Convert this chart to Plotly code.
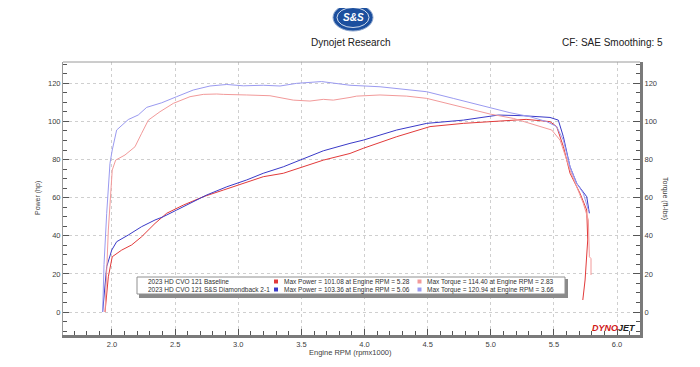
import plotly.graph_objects as go

# ---------------- data ----------------
base_power_rpm = [1.945, 1.971, 2.002, 2.077, 2.156, 2.235, 2.341, 2.433, 2.565, 2.723, 2.882, 3.04, 3.198,
                  3.357, 3.515, 3.674, 3.885, 3.99, 4.255, 4.519, 4.783, 5.047, 5.28, 5.469, 5.522, 5.575,
                  5.628, 5.707, 5.76, 5.768, 5.76, 5.747, 5.729]
base_power_hp = [0, 18.5, 29, 32.5, 35.2, 39.5, 46.5, 51.8, 56.1, 60.5, 64, 67.5, 71,
                 72.8, 76.2, 79.7, 83.2, 85.9, 92, 97.3, 99, 100.2, 101.08, 99.9, 97.3, 86.8,
                 72.8, 62.3, 53.5, 37.8, 27.3, 16.8, 6.3]

base_torque_rpm = [1.945, 1.971, 2.002, 2.029, 2.103, 2.182, 2.235, 2.288, 2.38, 2.486, 2.618, 2.723, 2.83,
                   2.882, 3.067, 3.251, 3.436, 3.568, 3.674, 3.753, 3.885, 3.938, 4.123, 4.334, 4.493,
                   4.651, 4.836, 4.994, 5.179, 5.364, 5.483, 5.549, 5.628, 5.733, 5.773, 5.781, 5.794, 5.794]
base_torque_ftlb = [0, 43, 74.5, 79.7, 82.4, 86.7, 93.8, 100.7, 105.1, 109.5, 113, 114.2, 114.4,
                    114.2, 113.9, 113.5, 111.2, 110.7, 111.6, 111.2, 112.6, 113.3, 113.9, 113.3, 112.1,
                    109.5, 106.3, 103.9, 101.6, 98.1, 95.5, 90.2, 74.5, 57, 48.3, 29, 28, 19.4]

ss_power_rpm = [1.926, 1.958, 1.998, 2.037, 2.129, 2.235, 2.341, 2.406, 2.512, 2.618, 2.75, 2.909, 3.067,
                3.198, 3.357, 3.489, 3.674, 3.885, 3.99, 4.255, 4.493, 4.783, 5.06, 5.258, 5.469, 5.535,
                5.575, 5.628, 5.681, 5.76, 5.781]
ss_power_hp = [0, 23.8, 32.5, 36.9, 40.4, 44.8, 48.3, 50, 53.5, 57, 61.4, 65.7, 69.3,
               72.8, 76.2, 79.7, 84.6, 88.5, 90.2, 95.5, 99, 100.7, 103.36, 103.0, 102.1, 100.7,
               92, 76.2, 67.5, 60.5, 51.8]

ss_torque_rpm = [1.926, 1.937, 1.958, 1.984, 2.002, 2.037, 2.129, 2.208, 2.275, 2.394, 2.512, 2.644, 2.776,
                 2.909, 3.04, 3.198, 3.331, 3.463, 3.66, 3.78, 3.885, 4.123, 4.307, 4.493, 4.703, 4.915,
                 5.152, 5.311, 5.443, 5.522, 5.575, 5.628, 5.681, 5.733, 5.773]
ss_torque_ftlb = [0, 25, 51.8, 78, 85, 95.5, 101, 103.4, 107.4, 109.8, 113, 116.5, 118.6,
                  119.4, 118.7, 119, 118.6, 120, 120.94, 120, 119, 118.2, 116.8, 115.6, 112.1, 108.6,
                  104.6, 102.5, 99.9, 97.3, 90.2, 76.2, 67.5, 62.3, 53.5]

run_names = ["2023 HD CVO 121 Baseline", "2023 HD CVO 121 S&S Diamondback 2-1"]
max_power_text = ["Max Power = 101.08 at Engine RPM = 5.28", "Max Power = 103.36 at Engine RPM = 5.06"]
max_torque_text = ["Max Torque = 114.40 at Engine RPM = 2.83", "Max Torque = 120.94 at Engine RPM = 3.66"]
power_colors = ["#e23a3a", "#3a3ac8"]
torque_colors = ["#f29a9a", "#9a9af0"]

x_ticks = [2.0, 2.5, 3.0, 3.5, 4.0, 4.5, 5.0, 5.5, 6.0]
y_ticks = [0, 20, 40, 60, 80, 100, 120]

# ---------------- figure ----------------
OFF = 8  # default page body margin
W, H = 700 - OFF, 367 - OFF
ML, MR, MT, MB = 63 - OFF, 60, 62 - OFF, 32
PW, PH = W - ML - MR, H - MT - MB


def px(x):
    return (x - OFF - ML) / PW


def py(y):
    return (OFF + H - MB - y) / PH


def note(text, x, y, size, color="#404040", xanchor="center", angle=0, family=None):
    d = dict(text=text, x=px(x), y=py(y), xref="paper", yref="paper", xanchor=xanchor,
             yanchor="middle", showarrow=False, textangle=angle, font=dict(size=size, color=color))
    if family:
        d["font"]["family"] = family
    return d


FONT = "Liberation Sans"
fig = go.Figure()
fig.add_trace(go.Scatter(x=base_torque_rpm, y=base_torque_ftlb, mode="lines", yaxis="y2",
                         line=dict(color=torque_colors[0], width=1)))
fig.add_trace(go.Scatter(x=ss_torque_rpm, y=ss_torque_ftlb, mode="lines", yaxis="y2",
                         line=dict(color=torque_colors[1], width=1)))
fig.add_trace(go.Scatter(x=base_power_rpm, y=base_power_hp, mode="lines",
                         line=dict(color=power_colors[0], width=1)))
fig.add_trace(go.Scatter(x=ss_power_rpm, y=ss_power_hp, mode="lines",
                         line=dict(color=power_colors[1], width=1)))

YR = [-12.07, 131.2]
grid = dict(showgrid=True, gridcolor="#cfcfcf", griddash="dot", gridwidth=1)
fig.update_layout(
    width=W, height=H, margin=dict(l=ML, r=MR, t=MT, b=MB, pad=0),
    paper_bgcolor="white", plot_bgcolor="white", showlegend=False,
    font=dict(family=FONT, size=8, color="#404040"),
    xaxis=dict(range=[1.612, 6.182], tickvals=x_ticks, ticktext=[f"{v:.1f}" for v in x_ticks],
               showline=True, linecolor="#7a7a7a", linewidth=3, ticks="inside", ticklen=6,
               tickcolor="#555", zeroline=False, tickfont=dict(size=7.5),
               minor=dict(dtick=0.1, tick0=0, ticks="inside", ticklen=4, tickcolor="#555", showgrid=False),
               **grid),
    yaxis=dict(range=YR, tickvals=y_ticks, showline=True, linecolor="#9a9a9a", linewidth=1,
               ticks="inside", ticklen=6, tickcolor="#555", zeroline=False, tickfont=dict(size=7.5),
               minor=dict(dtick=5, tick0=0, ticks="inside", ticklen=4, tickcolor="#555", showgrid=False),
               **grid),
    yaxis2=dict(range=YR, tickvals=y_ticks, overlaying="y", side="right", showline=True,
                linecolor="#7a7a7a", linewidth=3, ticks="inside", ticklen=7, tickcolor="#555",
                zeroline=False, showgrid=False, tickfont=dict(size=7.5),
                minor=dict(dtick=5, tick0=0, ticks="inside", ticklen=4, tickcolor="#555")),
)

shapes = []
ann = []
# top frame line
shapes.append(dict(type="line", xref="paper", yref="paper", x0=0, x1=1, y0=1, y1=1,
                   line=dict(color="#9a9a9a", width=1)))
# header logo (S&S oval)
shapes.append(dict(type="circle", xref="paper", yref="paper", x0=px(333), x1=px(373), y0=py(4), y1=py(31),
                   fillcolor="#1c4f9e", line=dict(color="#8fa8cf", width=1)))
shapes.append(dict(type="circle", xref="paper", yref="paper", x0=px(337), x1=px(369), y0=py(7.5), y1=py(27.5),
                   fillcolor="rgba(0,0,0,0)", line=dict(color="white", width=0.8)))
ann.append(note("<b><i>S&amp;S</i></b>", 353, 17.5, 10, color="white"))
ann.append(note("Dynojet Research", 350, 42, 10, color="#202020"))
ann.append(note("CF: SAE Smoothing: 5", 665, 42, 10, color="#202020", xanchor="right"))
# axis titles
ann.append(note("Engine RPM (rpmx1000)", 350, 352, 7.5))
ann.append(note("Power (hp)", 38, 198, 7, angle=-90))
ann.append(note("Torque (ft-lbs)", 665, 198, 7, angle=90))
# Dynojet logo
ann.append(note("<b><i><span style='color:#d01818'>DYNO</span><span style='color:#202020'>JET</span></i></b>",
                638, 328, 9, xanchor="right"))
# legend box with shadow
shapes.append(dict(type="rect", xref="paper", yref="paper", x0=px(139), x1=px(568), y0=py(298), y1=py(279),
                   fillcolor="#8a8a8a", line=dict(width=0)))
shapes.append(dict(type="rect", xref="paper", yref="paper", x0=px(137), x1=px(565), y0=py(294), y1=py(277),
                   fillcolor="white", line=dict(color="#909090", width=1)))
rows_y = [281.5, 289.5]
for i in range(2):
    ann.append(note(run_names[i], 146, rows_y[i], 6.5, color="#303030", xanchor="left"))
    ann.append(note(max_power_text[i], 282, rows_y[i], 6.5, color="#303030", xanchor="left"))
    ann.append(note(max_torque_text[i], 425, rows_y[i], 6.5, color="#303030", xanchor="left"))
    shapes.append(dict(type="rect", xref="paper", yref="paper", x0=px(274), x1=px(278),
                       y0=py(rows_y[i] + 2), y1=py(rows_y[i] - 2), fillcolor=power_colors[i],
                       line=dict(width=0)))
    shapes.append(dict(type="rect", xref="paper", yref="paper", x0=px(417.5), x1=px(421.5),
                       y0=py(rows_y[i] + 2), y1=py(rows_y[i] - 2), fillcolor=torque_colors[i],
                       line=dict(width=0)))
fig.update_layout(shapes=shapes, annotations=ann)
fig.write_html("out.html")
